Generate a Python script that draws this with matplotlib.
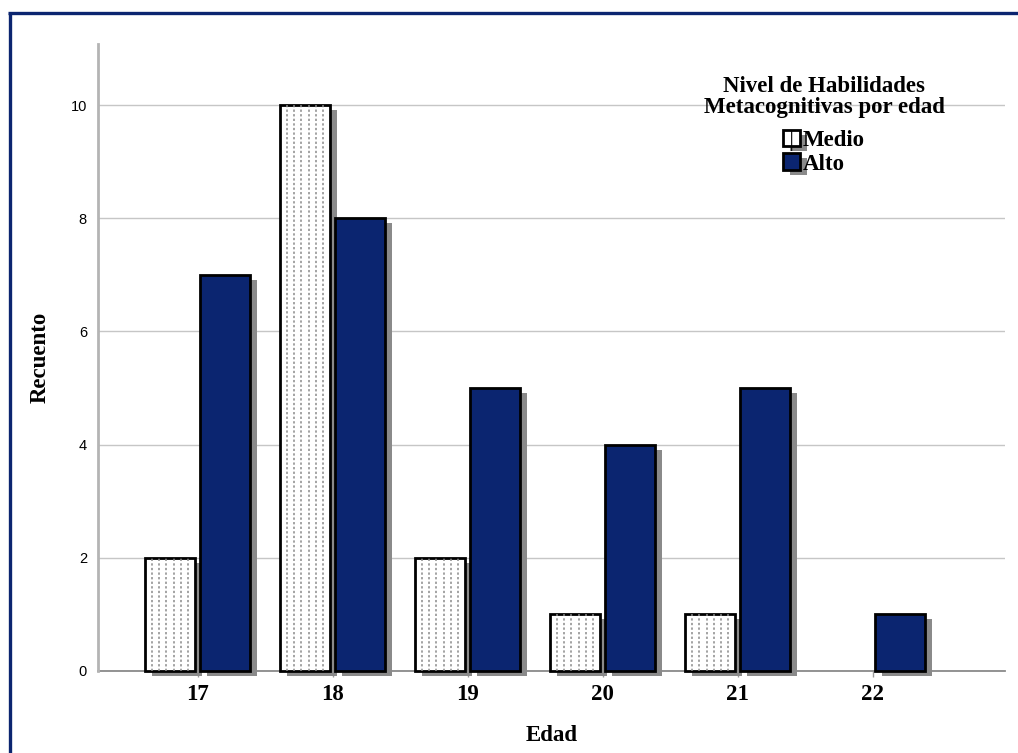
import matplotlib
matplotlib.use("Agg")
import matplotlib.pyplot as plt
import matplotlib.patheffects as pe
from matplotlib.patches import Patch
from matplotlib.lines import Line2D
import numpy as np

# Conteos por edad y nivel de habilidades metacognitivas
edades = ["17", "18", "19", "20", "21", "22"]
medio = [2, 10, 2, 1, 1, 0]
alto = [7, 8, 5, 4, 5, 1]
y_ticks = [0, 2, 4, 6, 8, 10]

NAVY = "#0b2570"
SHADOW = "#8a8a8a"
SERIF = ["Liberation Serif", "DejaVu Serif"]
SANS = ["Liberation Sans", "DejaVu Sans"]
FS = 16.5

plt.rcParams["patch.force_edgecolor"] = True
plt.rcParams["patch.edgecolor"] = "black"
plt.rcParams["hatch.color"] = "#9a9a9a"
plt.rcParams["hatch.linewidth"] = 0.8

fig = plt.figure(figsize=(10.18, 7.53), dpi=100)
ax = fig.add_axes([98 / 1018, 1 - 671 / 753, 907 / 1018, 627 / 753])

x = np.arange(len(edades))
w = 0.37
off = 0.204
shadow = [pe.SimplePatchShadow(offset=(5.0, -3.6), shadow_rgbFace=SHADOW, alpha=1.0), pe.Normal()]

bars_m = []
for xi, v in zip(x, medio):
    if v <= 0:
        continue
    b = ax.bar(xi - off, v, width=w, color="white", edgecolor="black",
               linewidth=2.0, clip_on=False, zorder=3)[0]
    b.set_path_effects(shadow)
    bars_m.append(b)
for xi, v in zip(x, alto):
    b = ax.bar(xi + off, v, width=w, color=NAVY, edgecolor="black",
               linewidth=2.0, clip_on=False, zorder=3)[0]
    b.set_path_effects(shadow)

# dotted fill pattern inside the "Medio" bars
for b in bars_m:
    x0, bw, h = b.get_x(), b.get_width(), b.get_height()
    xs = x0 + bw * np.arange(1, 7) / 7
    lc = ax.vlines(xs, 0, h, colors="#8a8a8a", linewidth=1.1,
                   linestyles=(0, (1.5, 1.5)), zorder=3.5, clip_on=False)
    lc.set_clip_path(b)

ax.set_xlim(-0.737, 5.98)
ax.set_ylim(0, 11.08)
ax.set_yticks(y_ticks)
ax.set_xticks(x)
ax.set_xticklabels(edades, fontfamily=SERIF, fontweight="bold", fontsize=FS)
for t in ax.get_yticklabels():
    t.set_fontfamily(SANS)
    t.set_fontsize(10.5)
ax.tick_params(axis="y", length=0, pad=8)
ax.tick_params(axis="x", length=4, color="#9a9a9a", width=1, pad=5)

ax.set_axisbelow(True)
ax.yaxis.grid(True, color="#c6c6c6", linewidth=1.0)
for s in ["top", "right"]:
    ax.spines[s].set_visible(False)
ax.spines["left"].set_color("#b4b4b4")
ax.spines["left"].set_linewidth(2.0)
ax.spines["bottom"].set_color("#8a8a8a")
ax.spines["bottom"].set_linewidth(1.3)
ax.spines["bottom"].set_zorder(2)

ax.set_xlabel("Edad", fontfamily=SERIF, fontweight="bold", fontsize=FS, labelpad=15)
ax.set_ylabel("Recuento", fontfamily=SERIF, fontweight="bold", fontsize=FS, labelpad=14)

h_medio = Patch(facecolor="white", hatch="|", linewidth=2.0, label="Medio")
h_medio.set_path_effects(shadow)
h_alto = Patch(facecolor=NAVY, edgecolor="black", linewidth=2.0, label="Alto")
h_alto.set_path_effects(shadow)
leg = ax.legend(handles=[h_medio, h_alto],
                title="Nivel de Habilidades\nMetacognitivas por edad",
                loc="upper center", bbox_to_anchor=(824 / 1018, 1 - 65 / 753),
                bbox_transform=fig.transFigure, frameon=False,
                prop={"family": SERIF, "weight": "bold", "size": FS},
                title_fontproperties={"family": SERIF, "weight": "bold", "size": FS},
                handlelength=0.75, handleheight=0.75, handletextpad=0.12,
                labelspacing=0.1, borderpad=0.0)
leg.get_title().set_linespacing(1.0)
leg.get_title().set_multialignment("center")
leg._legend_box.sep = 8.0

# navy page frame on the left and top edges
fig.add_artist(Line2D([9.5 / 1018, 9.5 / 1018], [0, 1 - 12.5 / 753], color=NAVY,
                      linewidth=2.4, transform=fig.transFigure, solid_capstyle="butt"))
fig.add_artist(Line2D([8 / 1018, 1], [1 - 12.5 / 753, 1 - 12.5 / 753], color=NAVY,
                      linewidth=2.4, transform=fig.transFigure, solid_capstyle="butt"))

fig.savefig("out.png", dpi=100)
